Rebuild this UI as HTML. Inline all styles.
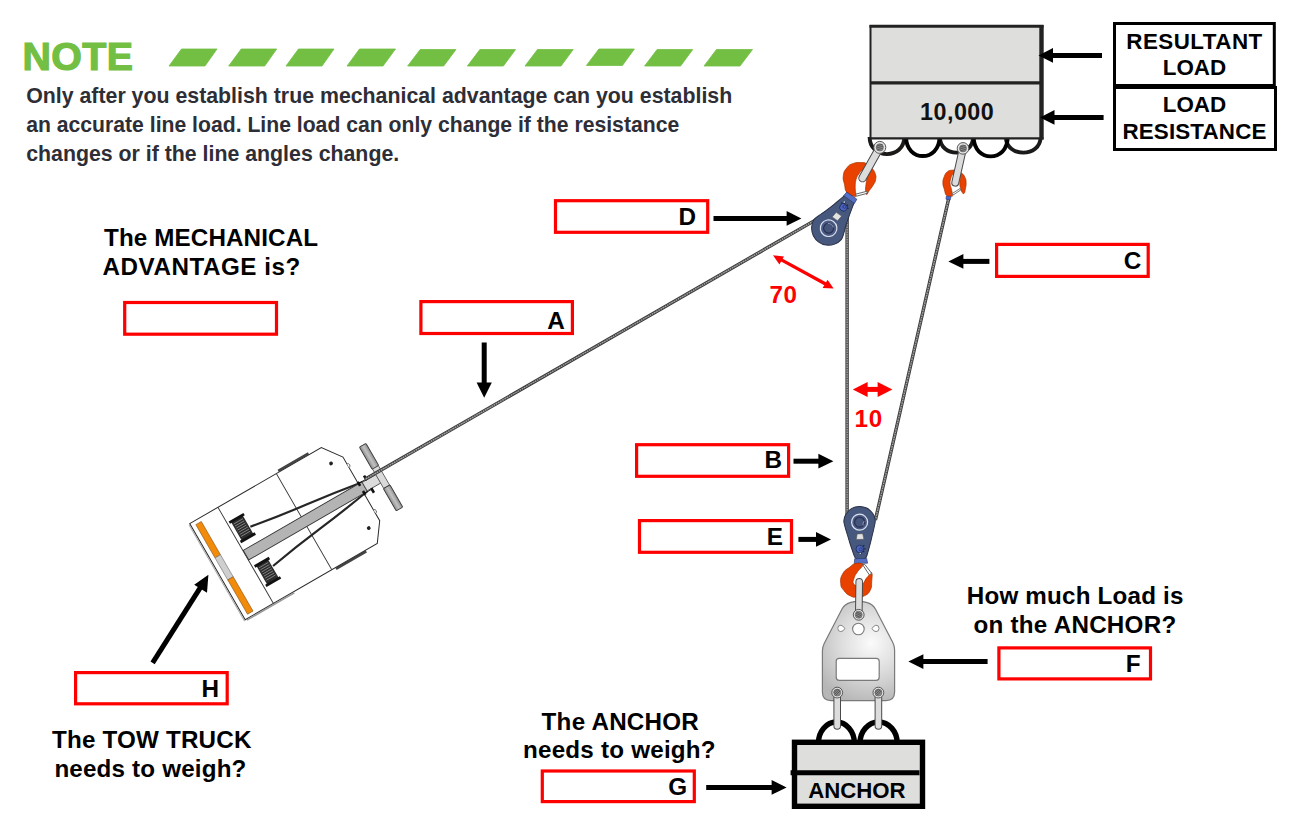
<!DOCTYPE html>
<html>
<head>
<meta charset="utf-8">
<title>Mechanical Advantage</title>
<style>
html,body{margin:0;padding:0;background:#fff;}
body{width:1305px;height:819px;overflow:hidden;position:relative;font-family:"Liberation Sans",sans-serif;}
svg{position:absolute;left:0;top:0;}
text{font-family:"Liberation Sans",sans-serif;font-weight:bold;}
.lbl{fill:#000;}
.q{fill:#000;}
.red{fill:#ff0000;font-size:24.2px;letter-spacing:0.6px;}
.rb{fill:#fff;stroke:#ff0000;stroke-width:3.2;}
.ar{stroke:#000;stroke-width:5;fill:none;}
.ah{fill:#000;stroke:none;}
</style>
</head>
<body>
<svg width="1305" height="819" viewBox="0 0 1305 819">
<defs>
  <linearGradient id="plate" x1="0" y1="0" x2="1" y2="1">
    <stop offset="0" stop-color="#c4c4c4"/><stop offset="0.45" stop-color="#ececec"/><stop offset="1" stop-color="#bdbdbd"/>
  </linearGradient>
  <linearGradient id="bar" x1="0" y1="0" x2="0" y2="1">
    <stop offset="0" stop-color="#9a9a9a"/><stop offset="0.5" stop-color="#cfcfcf"/><stop offset="1" stop-color="#9a9a9a"/>
  </linearGradient>
  <linearGradient id="tb" x1="0" y1="0" x2="1" y2="0">
    <stop offset="0" stop-color="#8e8e8e"/><stop offset="0.5" stop-color="#c2c2c2"/><stop offset="1" stop-color="#8e8e8e"/>
  </linearGradient>
</defs>

<!-- NOTE header -->
<g id="note">
  <text x="22.6" y="69.5" font-size="39.4" fill="#72bf44" stroke="#72bf44" stroke-width="1.2" letter-spacing="0.3">NOTE</text>
  <g fill="#72bf44" stroke="#72bf44" stroke-width="0.8" stroke-linejoin="round">
    <path d="M169 66 L181.5 49 L217 49 L205 66Z"/>
    <path d="M228.7 66 L241.2 49 L276.7 49 L264.7 66Z"/>
    <path d="M286 66 L298.5 49 L334 49 L322 66Z"/>
    <path d="M347 66 L359.5 49 L395.5 49 L383 66Z"/>
    <path d="M407.7 66 L420.2 49.5 L456 49.5 L443.7 66Z"/>
    <path d="M467.4 66 L479.9 49.5 L515.6 49.5 L503.4 66Z"/>
    <path d="M525 66 L537.5 49.5 L573.2 49.5 L561 66Z"/>
    <path d="M586.4 65.5 L598.9 49 L634.4 49 L622.4 65.5Z"/>
    <path d="M644.6 66 L657.1 49.5 L692.7 49.5 L680.6 66Z"/>
    <path d="M704 66 L716.5 49.5 L752.5 49.5 L740 66Z"/>
  </g>
  <g font-size="22" fill="#2e2e36">
    <text x="26.2" y="103" textLength="706" lengthAdjust="spacingAndGlyphs">Only after you establish true mechanical advantage can you establish</text>
    <text x="26.2" y="132" textLength="653" lengthAdjust="spacingAndGlyphs">an accurate line load. Line load can only change if the resistance</text>
    <text x="26.2" y="161" textLength="373" lengthAdjust="spacingAndGlyphs">changes or if the line angles change.</text>
  </g>
</g>

<!-- TOW TRUCK -->
<g id="truck" transform="translate(189.7 523.6) rotate(-30)">
  <!-- tyres / side marks -->
  <path d="M103 -1.4 H138" stroke="#444" stroke-width="2.6"/>
  <path d="M104 112.4 H139" stroke="#444" stroke-width="2.6"/>
  <!-- body -->
  <path d="M0 0 L152 0 L166 19 L166 92.5 L152.5 111 L0 111Z" fill="#fff" stroke="#2a2a2a" stroke-width="1"/>
  <path d="M1.2 112.2 H56" stroke="#9a9a9a" stroke-width="1.6"/>
  <path d="M-1.2 1 V112" stroke="#b0b0b0" stroke-width="1.2"/>
  <path d="M32.6 0 V111 M100 0 V111" stroke="#3a3a3a" stroke-width="0.9" fill="none"/>
  <!-- small bumps -->
  <path d="M166 27 a2 2 0 0 1 0 4 M166 80 a2 2 0 0 1 0 4" stroke="#555" stroke-width="0.8" fill="#fff"/>
  <circle cx="152.5" cy="18.6" r="1.9" fill="#222"/>
  <circle cx="152.8" cy="93.4" r="1.9" fill="#222"/>
  <!-- lights -->
  <rect x="4.8" y="4" width="6.3" height="38.4" fill="#f28a0a" stroke="#8a5a20" stroke-width="0.6"/>
  <rect x="4.8" y="42.4" width="6.3" height="25.4" fill="#cfcfcf" stroke="#777" stroke-width="0.6"/>
  <rect x="4.8" y="67.8" width="6.3" height="39.6" fill="#f28a0a" stroke="#8a5a20" stroke-width="0.6"/>
  <!-- cables -->
  <path d="M51 33 Q80 38.2 110 41.8 T170 50.4" stroke="#262626" stroke-width="2.2" fill="none"/>
  <path d="M51 78.4 Q80 73.2 110 69.6 T170 60.8" stroke="#262626" stroke-width="2.2" fill="none"/>
  <!-- boom -->
  <rect x="33" y="50" width="137" height="11" fill="#b4b4b4" stroke="#333" stroke-width="0.9"/>
  <rect x="170" y="50.6" width="16" height="9.8" fill="#dcdcdc" stroke="#444" stroke-width="0.8"/>
  <!-- boom-tip pins -->
  <path d="M166.4 48 V52.6 M175 45.6 V51 M166.4 58.4 V63 M175 60 V65.4" stroke="#111" stroke-width="2.6"/>
  <path d="M166 49.8 H176 M166 61.2 H176" stroke="#111" stroke-width="0.9"/>
  <!-- winch drums -->
  <g>
    <rect x="36.6" y="19" width="13.4" height="22.4" fill="#2b2b2b"/>
    <rect x="34.8" y="17.6" width="17" height="2.8" fill="#111"/>
    <rect x="34.8" y="40" width="17" height="2.8" fill="#111"/>
    <path d="M38 22.4 H48.6 M38 24.8 H48.6 M38 27.2 H48.6 M38 29.6 H48.6 M38 32 H48.6 M38 34.4 H48.6 M38 36.8 H48.6" stroke="#9a9a9a" stroke-width="0.7"/>
    <rect x="36.6" y="69.6" width="13.4" height="22.4" fill="#2b2b2b"/>
    <rect x="34.8" y="68.2" width="17" height="2.8" fill="#111"/>
    <rect x="34.8" y="90.6" width="17" height="2.8" fill="#111"/>
    <path d="M38 73 H48.6 M38 75.4 H48.6 M38 77.8 H48.6 M38 80.2 H48.6 M38 82.6 H48.6 M38 85 H48.6 M38 87.4 H48.6" stroke="#9a9a9a" stroke-width="0.7"/>
  </g>
  <!-- T-bar -->
  <g>
    <rect x="185.2" y="18.6" width="7.6" height="25.6" rx="1" fill="url(#tb)" stroke="#3a3a3a" stroke-width="0.9"/>
    <rect x="185.6" y="44.2" width="6.8" height="22.4" fill="#dadada" stroke="#555" stroke-width="0.8"/>
    <rect x="185.2" y="66.6" width="7.6" height="25.6" rx="1" fill="url(#tb)" stroke="#3a3a3a" stroke-width="0.9"/>
  </g>
</g>

<!-- ROPES -->
<g id="ropes" fill="none" stroke-linecap="butt">
  <g stroke="#383838" stroke-width="3.4">
    <line x1="365" y1="479.3" x2="818" y2="218.6"/>
    <line x1="847.1" y1="218" x2="847.1" y2="516"/>
    <line x1="948.6" y1="199" x2="875.4" y2="520"/>
  </g>
  <g stroke="#a6a6a6" stroke-width="1.5">
    <line x1="365" y1="479.3" x2="818" y2="218.6"/>
    <line x1="847.1" y1="218" x2="847.1" y2="516"/>
    <line x1="948.6" y1="199" x2="875.4" y2="520"/>
  </g>
  <g stroke="#484848" stroke-width="1.5" stroke-dasharray="1 1.5">
    <line x1="365" y1="479.3" x2="818" y2="218.6"/>
    <line x1="847.1" y1="218" x2="847.1" y2="516"/>
    <line x1="948.6" y1="199" x2="875.4" y2="520"/>
  </g>
</g>

<!-- LOAD BOX -->
<g id="load">
  <g fill="none" stroke-width="3.9">
    <path d="M869.6 137 C869.6 159.8 904.3 159.8 904.3 137" stroke="#1c1a18"/>
    <path d="M939.9 137 C939.9 157.8 973.1 157.8 973.1 137" stroke="#1c1a18"/>
    <path d="M1005.9 137 C1005.9 157.8 1040.6 157.8 1040.6 137" stroke="#1c1a18"/>
    <path d="M906.1 137 C906.1 162.4 939.5 162.4 939.5 137" stroke="#000"/>
    <path d="M973.7 137 C973.7 162.8 1007.7 162.8 1007.7 137" stroke="#000"/>
  </g>
  <rect x="870" y="26" width="172" height="112" fill="#dededc"/>
  <path d="M870.5 25 V138.5" stroke="#222" stroke-width="2" fill="none"/>
  <path d="M869.5 26.2 H1043.5" stroke="#222" stroke-width="3" fill="none"/>
  <path d="M1041.5 25 V139.5" stroke="#222" stroke-width="4.4" fill="none"/>
  <path d="M869.5 138.3 H1043.5" stroke="#222" stroke-width="2.2" fill="none"/>
  <path d="M870 82.9 H1042" stroke="#222" stroke-width="3.3" fill="none"/>
  <text x="920" y="119.8" font-size="23.3" fill="#111" letter-spacing="0.5">10,000</text>
</g>

<!-- RESULTANT / RESISTANCE -->
<g id="rl">
  <rect x="1114.5" y="23.5" width="159.8" height="62" fill="#fff" stroke="#000" stroke-width="3"/>
  <rect x="1114.5" y="87.5" width="161" height="62" fill="#fff" stroke="#000" stroke-width="3"/>
  <g font-size="22.4" fill="#000" text-anchor="middle">
    <text x="1194.5" y="48.6" letter-spacing="0.45">RESULTANT</text>
    <text x="1194.5" y="74.8" >LOAD</text>
    <text x="1194.5" y="112.4" >LOAD</text>
    <text x="1194.5" y="138.6" letter-spacing="0.15">RESISTANCE</text>
  </g>
  <path class="ar" d="M1102 55.4 H1050"/><path class="ah" d="M1038.5 55.4 L1053 48 V62.8Z"/>
  <path class="ar" d="M1103.6 117.4 H1052"/><path class="ah" d="M1040 117.4 L1054.5 110 V124.8Z"/>
</g>

<!-- ANCHOR + PLATE -->
<g id="anchor">
  <path d="M818.4 743 A18 21 0 0 1 854.4 743" fill="none" stroke="#000" stroke-width="5.4"/>
  <path d="M860 743 A18.6 21 0 0 1 897.2 743" fill="none" stroke="#000" stroke-width="5.4"/>
  <rect x="794.5" y="742.3" width="128" height="64" fill="#dededc" stroke="#000" stroke-width="5.4"/>
  <path d="M790.6 772.8 H919.5" stroke="#000" stroke-width="5" fill="none"/>
  <text x="808.2" y="797.6" font-size="22.2" fill="#000" letter-spacing="0">ANCHOR</text>
</g>
<g id="plate">
  <radialGradient id="pg" cx="871" cy="643" r="62" gradientUnits="userSpaceOnUse">
    <stop offset="0" stop-color="#fbfbfb"/><stop offset="0.5" stop-color="#dcdcdc"/><stop offset="1" stop-color="#b6b6b6"/>
  </radialGradient>
  <path d="M850 602.6 Q858.6 600 867.4 602.6 Q872.6 604 875.4 609 L892.8 642.5 Q894.6 646 894.6 650 L894.6 692 Q894.6 700.6 886 700.6 L831 700.6 Q822.4 700.6 822.4 692 L822.4 651 Q822.4 647 824.2 643.5 L842 609 Q844.8 604 850 602.6Z" fill="url(#pg)" stroke="#7a7a7a" stroke-width="1.2"/>
  <rect x="836.2" y="658.3" width="43" height="22" rx="3" fill="#fff" stroke="#7a7a7a" stroke-width="1.2"/>
  <circle cx="858.4" cy="629" r="5.8" fill="#fff" stroke="#7a7a7a" stroke-width="1.1"/>
  <path d="M837.8 628.4 Q837.8 625 841 625.2 Q843.8 626.2 844.8 628.6 Q843.4 631.4 840.8 631.6 Q837.8 631.6 837.8 628.4Z" fill="#fff" stroke="#7a7a7a" stroke-width="0.9"/>
  <path d="M879 628.4 Q879 625 875.8 625.2 Q873 626.2 872 628.6 Q873.4 631.4 876 631.6 Q879 631.6 879 628.4Z" fill="#fff" stroke="#7a7a7a" stroke-width="0.9"/>
  <!-- lower shackles -->
  <g>
    <line x1="837.2" y1="693" x2="837.2" y2="726" stroke="#4a4a4a" stroke-width="7.6" stroke-linecap="round"/>
    <line x1="837.2" y1="693" x2="837.2" y2="726" stroke="#dcdcdc" stroke-width="5.6" stroke-linecap="round"/>
    <line x1="878.4" y1="693" x2="878.4" y2="726" stroke="#4a4a4a" stroke-width="7.6" stroke-linecap="round"/>
    <line x1="878.4" y1="693" x2="878.4" y2="726" stroke="#dcdcdc" stroke-width="5.6" stroke-linecap="round"/>
    <circle cx="837.2" cy="692.6" r="5.4" fill="#e4e4e4" stroke="#555" stroke-width="1"/>
    <circle cx="837.2" cy="692.6" r="3.5" fill="#8a8a8a" stroke="#555" stroke-width="0.6"/>
    <path d="M834.6 694.4 l4.4 -4.6 M835.6 695.6 l4.6 -4.8 M833.9 692.8 l3.6 -3.8" stroke="#444" stroke-width="0.7" fill="none"/>
    <circle cx="878.4" cy="692.6" r="5.4" fill="#e4e4e4" stroke="#555" stroke-width="1"/>
    <circle cx="878.4" cy="692.6" r="3.5" fill="#8a8a8a" stroke="#555" stroke-width="0.6"/>
    <path d="M875.8 694.4 l4.4 -4.6 M876.8 695.6 l4.6 -4.8 M875.1 692.8 l3.6 -3.8" stroke="#444" stroke-width="0.7" fill="none"/>
  </g>
</g>

<!-- SHACKLES top -->
<g id="hooks-top">
  <!-- hook D (large) -->
  <path d="M846.9 192.4 C844.4 189.2 845.5 188.9 844.5 184.4 C843.6 180.0 842.7 180.2 843.3 175.7 C844.0 171.3 844.3 171.1 846.9 167.8 C849.6 164.5 849.4 164.8 853.3 163.4 C857.1 162.0 857.6 162.5 861.2 162.6 C864.8 162.7 864.0 162.4 866.7 163.8 C869.5 165.2 869.3 165.2 871.5 167.8 C873.7 170.3 874.0 170.2 875.1 173.3 C876.2 176.5 876.2 176.5 875.6 179.7 C875.1 182.9 874.8 182.3 873.1 185.2 C871.4 188.2 870.8 188.4 869.1 190.8 C867.4 193.2 867.7 194.4 866.7 194.4 C865.8 194.4 865.8 193.4 865.6 190.8 C865.3 188.1 865.6 187.8 866.0 184.4 C866.3 181.1 866.7 181.5 866.9 178.1 C867.1 174.7 867.8 173.9 866.7 171.7 C865.6 169.6 864.9 169.5 862.8 170.2 C860.7 170.8 860.6 171.6 858.8 174.1 C857.0 176.7 857.0 176.5 856.0 179.7 C855.1 182.9 855.4 182.9 855.2 186.0 C855.1 189.2 855.3 189.0 855.5 191.6 C855.6 194.1 856.2 194.3 855.8 195.6 C855.4 196.8 856.4 197.0 854.0 196.2 C851.7 195.3 849.4 195.5 846.9 192.4Z" fill="#e84100" stroke="#a83200" stroke-width="0.7" stroke-linejoin="round"/>
  <path d="M855.6 194.2 L866.7 191.3 L867.3 193.3 L856.3 196.2Z" fill="#fff" stroke="#555" stroke-width="0.9"/>
  <!-- shackle 1 -->
  <line x1="880" y1="147" x2="862.6" y2="178" stroke="#4a4a4a" stroke-width="8.6" stroke-linecap="round"/>
  <line x1="880" y1="147" x2="862.6" y2="178" stroke="#dcdcdc" stroke-width="6.6" stroke-linecap="round"/>
  <circle cx="879.8" cy="147.4" r="6" fill="#e4e4e4" stroke="#555" stroke-width="1"/>
  <circle cx="879.8" cy="147.4" r="3.6" fill="#8a8a8a" stroke="#555" stroke-width="0.6"/>
  <path d="M876.8 146 l5.6 -1.6 M876.6 148 l6.4 -1.8 M877.4 149.8 l5.2 -1.5" stroke="#444" stroke-width="0.7" fill="none"/>

  <!-- hook C (small) -->
  <path d="M946.7 195.6 C944.8 193.7 945.3 192.6 944.3 189.2 C943.3 185.8 942.9 186.2 942.9 182.9 C942.9 179.5 943.1 179.5 944.3 176.5 C945.5 173.5 945.3 173.4 947.5 171.7 C949.6 170.1 949.7 170.4 952.2 170.2 C954.8 169.9 954.4 170.1 957.0 171.0 C959.5 171.8 959.6 171.6 961.7 173.3 C963.9 175.0 963.8 174.8 964.9 177.3 C966.1 179.8 966.0 179.7 966.1 182.9 C966.2 186.0 965.8 186.4 965.3 189.2 C964.8 192.0 964.9 192.4 964.1 193.3 C963.4 194.3 963.5 194.1 962.5 192.8 C961.6 191.5 961.3 191.1 960.6 188.4 C959.8 185.8 959.9 185.8 959.8 182.9 C959.7 179.9 960.9 179.8 960.2 177.3 C959.4 174.8 958.9 174.2 957.0 173.3 C955.1 172.5 954.8 172.4 953.0 174.1 C951.3 175.8 951.2 176.9 950.5 179.7 C949.7 182.4 950.0 181.9 950.2 184.4 C950.5 187.0 950.9 186.5 951.4 189.2 C952.0 192.0 952.4 192.9 952.4 194.8 C952.4 196.6 953.0 196.0 951.4 196.2 C949.9 196.4 948.6 197.4 946.7 195.6Z" fill="#e84100" stroke="#a83200" stroke-width="0.7" stroke-linejoin="round"/>
  <path d="M952.4 193.4 L960 188.6 L960.8 189.9 L953.2 195Z" fill="#fff" stroke="#555" stroke-width="0.8"/>
  <path d="M946.3 196 L951.1 196.4 L950.3 200 L945.9 199.2Z" fill="#4a66c8" stroke="#2a3a70" stroke-width="0.5"/>
  <!-- shackle 2 -->
  <line x1="962.9" y1="148.6" x2="955.3" y2="182.6" stroke="#4a4a4a" stroke-width="8" stroke-linecap="round"/>
  <line x1="962.9" y1="148.6" x2="955.3" y2="182.6" stroke="#dcdcdc" stroke-width="6" stroke-linecap="round"/>
  <circle cx="963" cy="148.4" r="5.8" fill="#e4e4e4" stroke="#555" stroke-width="1"/>
  <circle cx="963" cy="148.4" r="3.5" fill="#8a8a8a" stroke="#555" stroke-width="0.6"/>
  <path d="M960 147 l5.6 -1.6 M959.8 149 l6.4 -1.8 M960.6 150.8 l5.2 -1.5" stroke="#444" stroke-width="0.7" fill="none"/>
</g>

<!-- PULLEY D -->
<g id="pulleyD" transform="translate(828.6 228.2) rotate(-54.5)">
  <path d="M-17.0 0.0 C-17.0 -2.6 -16.5 -5.4 -15.2 -7.8 C-13.9 -10.2 -11.6 -12.7 -9.4 -14.2 C-7.2 -15.7 -4.4 -16.7 -2.0 -16.9 C0.4 -17.1 2.7 -15.9 5.0 -15.2 C7.3 -14.5 9.0 -13.6 12.0 -12.6 C15.0 -11.6 19.7 -10.2 23.0 -9.3 C26.3 -8.4 29.8 -7.5 32.0 -6.9 C34.2 -6.3 35.4 -6.3 36.4 -5.6 C37.4 -4.9 37.6 -4.0 37.8 -2.6 C38.0 -1.2 38.0 1.2 37.8 2.6 C37.6 4.0 37.4 4.9 36.4 5.6 C35.4 6.3 34.2 6.3 32.0 6.9 C29.8 7.5 26.3 8.4 23.0 9.3 C19.7 10.2 15.0 11.6 12.0 12.6 C9.0 13.6 7.3 14.5 5.0 15.2 C2.7 15.9 0.4 17.1 -2.0 16.9 C-4.4 16.7 -7.2 15.7 -9.4 14.2 C-11.6 12.7 -13.9 10.2 -15.2 7.8 C-16.5 5.4 -17.0 2.6 -17.0 0.0Z" fill="#47587f" stroke="#2a2f45" stroke-width="1"/>
  <path d="M35.2 -6.6 L40 -6.2 L40 6.2 L35.2 6.6Z" fill="#5670c6" stroke="#2a3560" stroke-width="0.6"/>
  <circle cx="0" cy="0" r="8.3" fill="#4a5c86" stroke="#dde1ef" stroke-width="1.2"/>
  <circle cx="0" cy="0" r="5" fill="#44547a" stroke="#2a3050" stroke-width="1.2"/>
  <path d="M3.4 3.4 A4.8 4.8 0 0 0 3.4 -3.4" fill="none" stroke="#aab3d0" stroke-width="0.7"/>
  <path d="M11.2 -3.6 L17.4 -3 L17.4 3.6 L11.2 3Z" fill="#e2e2e2" stroke="#555" stroke-width="0.6"/>
  <circle cx="25.6" cy="0" r="3.8" fill="#4a64c4" stroke="#25305c" stroke-width="0.9"/>
  <path d="M27.6 -3.4 l1.2 -1 M29 -1.2 l1.6 -0.4 M28.8 1.6 l1.5 0.6 M27 3.6 l0.9 1.2" stroke="#1c2340" stroke-width="1.1" fill="none"/>
  <circle cx="26.6" cy="0.4" r="1.5" fill="none" stroke="#2a3560" stroke-width="0.8"/>
  <circle cx="30.4" cy="-2.4" r="0.7" fill="#e8ecf8"/>
</g>

<!-- PULLEY E -->
<g id="pulleyE" transform="translate(859.6 522.2) rotate(88.3)">
  <path d="M-15.8 0.0 C-15.8 -2.5 -15.2 -5.2 -14.0 -7.4 C-12.8 -9.6 -10.6 -11.9 -8.6 -13.3 C-6.6 -14.7 -4.3 -15.5 -2.0 -15.7 C0.3 -15.9 2.7 -15.0 5.0 -14.5 C7.3 -14.0 9.5 -13.3 12.0 -12.6 C14.5 -11.9 17.2 -11.3 20.0 -10.5 C22.8 -9.7 26.3 -8.6 28.8 -7.8 C31.3 -7.0 33.8 -6.5 35.2 -5.6 C36.6 -4.7 37.0 -4.0 37.4 -2.6 C37.8 -1.2 37.8 1.2 37.4 2.6 C37.0 4.0 36.6 4.7 35.2 5.6 C33.8 6.5 31.3 7.0 28.8 7.8 C26.3 8.6 22.8 9.7 20.0 10.5 C17.2 11.3 14.5 11.9 12.0 12.6 C9.5 13.3 7.3 14.0 5.0 14.5 C2.7 15.0 0.3 15.9 -2.0 15.7 C-4.3 15.5 -6.6 14.7 -8.6 13.3 C-10.6 11.9 -12.8 9.6 -14.0 7.4 C-15.2 5.2 -15.8 2.5 -15.8 0.0Z" fill="#47587f" stroke="#2a2f45" stroke-width="1"/>
  <path d="M36.4 -6 L41.2 -6.8 L41.2 6.6 L36.4 6Z" fill="#5670c6" stroke="#2a3560" stroke-width="0.6"/>
  <circle cx="0" cy="0" r="8" fill="#4a5c86" stroke="#dde1ef" stroke-width="1.2"/>
  <circle cx="0" cy="0" r="5" fill="#44547a" stroke="#2a3050" stroke-width="1.2"/>
  <path d="M3.4 -3.4 A4.8 4.8 0 0 1 -1 -4.7" fill="none" stroke="#aab3d0" stroke-width="0.7"/>
  <path d="M11.6 -2.8 L17.2 -3.8 L17.2 3.8 L11.6 2.8Z" fill="#e2e2e2" stroke="#555" stroke-width="0.6"/>
  <circle cx="26.8" cy="0.6" r="3.8" fill="#4a64c4" stroke="#25305c" stroke-width="0.9"/>
  <path d="M24.2 -2.8 l-1 -1.2 M26.6 -3.6 l0.2 -1.5 M29 -2.6 l1 -1.2 M30.6 -0.4 l1.5 -0.2" stroke="#1c2340" stroke-width="1.1" fill="none"/>
  <circle cx="27.2" cy="-0.4" r="1.5" fill="none" stroke="#2a3560" stroke-width="0.8"/>
  <circle cx="31.2" cy="0.2" r="0.7" fill="#e8ecf8"/>
</g>

<!-- HOOK E -->
<g id="hookE">
  <path d="M855.8 563.5 C852.4 564.3 853.3 564.3 849.8 567.1 C846.3 569.8 845.1 569.5 842.7 573.8 C840.3 578.1 840.4 578.9 840.7 583.3 C841.0 587.8 841.2 587.1 843.9 590.5 C846.5 593.9 847.1 594.3 850.6 596.0 C854.1 597.8 853.2 597.1 857.0 597.0 C860.8 596.9 861.3 597.6 864.9 595.6 C868.5 593.7 868.7 593.4 870.5 589.7 C872.3 586.0 871.3 586.2 871.7 581.7 C872.0 577.3 872.6 574.7 871.8 573.0 C871.1 571.3 870.4 573.9 868.9 575.4 C867.4 576.9 867.6 576.5 866.1 578.6 C864.6 580.7 865.1 581.4 863.3 583.3 C861.5 585.2 861.9 585.5 859.4 585.7 C856.8 585.9 855.2 586.2 853.8 584.1 C852.4 582.0 853.1 581.2 854.2 577.8 C855.3 574.4 855.8 574.3 857.8 571.4 C859.8 568.6 860.4 569.0 861.7 567.1 C863.1 565.1 864.3 565.1 862.7 564.1 C861.1 563.2 859.2 562.7 855.8 563.5Z" fill="#e84100" stroke="#a83200" stroke-width="0.7" stroke-linejoin="round"/>
  <path d="M862.6 564.6 L864.8 564.4 L871.6 573.2 L869.4 575Z" fill="#fff" stroke="#555" stroke-width="0.9"/>
  <line x1="859.2" y1="581.8" x2="858.8" y2="615" stroke="#4a4a4a" stroke-width="7.6" stroke-linecap="round"/>
  <line x1="859.2" y1="581.8" x2="858.8" y2="615" stroke="#dcdcdc" stroke-width="5.6" stroke-linecap="round"/>
  <circle cx="858.7" cy="614.8" r="5.4" fill="#e4e4e4" stroke="#555" stroke-width="1"/>
  <circle cx="858.7" cy="614.8" r="3.5" fill="#8a8a8a" stroke="#555" stroke-width="0.6"/>
  <path d="M856 613.4 l5 2.4 M856.4 611.8 l5.2 2.6 M855.8 615.2 l4.6 2.2" stroke="#444" stroke-width="0.7" fill="none"/>
</g>

<!-- RED BOXES + LABELS -->
<g id="boxes">
  <rect class="rb" x="124.7" y="302.5" width="151.8" height="31.7"/>
  <rect class="rb" x="420.9" y="301.6" width="151.5" height="31.9"/>
  <rect class="rb" x="555.5" y="200.7" width="152.2" height="31.6"/>
  <rect class="rb" x="636.6" y="444.7" width="152" height="31.6"/>
  <rect class="rb" x="639.5" y="520.6" width="152" height="31.7"/>
  <rect class="rb" x="996.6" y="244.4" width="151.6" height="32"/>
  <rect class="rb" x="998.9" y="647.9" width="151.6" height="31"/>
  <rect class="rb" x="75.6" y="672.6" width="151.6" height="31.2"/>
  <rect class="rb" x="542.3" y="771" width="152" height="30.6"/>
  <g class="lbl" font-size="24.3">
    <text x="547.2" y="328.8">A</text>
    <text x="764.6" y="468.4">B</text>
    <text x="1123.8" y="268.9">C</text>
    <text x="678.6" y="224.8">D</text>
    <text x="766.8" y="544.7">E</text>
    <text x="1125.8" y="671.6">F</text>
    <text x="668.2" y="795.2">G</text>
    <text x="201.4" y="696.6">H</text>
  </g>
</g>
<g id="questions" class="q" font-size="24.2">
  <text x="104" y="245.8" textLength="214" lengthAdjust="spacing">The MECHANICAL</text>
  <text x="102.6" y="274.9" textLength="197.6" lengthAdjust="spacing">ADVANTAGE is?</text>
  <text x="966.8" y="604.2" textLength="216.6" lengthAdjust="spacing">How much Load is</text>
  <text x="973.4" y="633.4" textLength="202.8" lengthAdjust="spacing">on the ANCHOR?</text>
  <text x="52" y="747.7" textLength="199.4" lengthAdjust="spacing">The TOW TRUCK</text>
  <text x="54.4" y="777" textLength="192" lengthAdjust="spacing">needs to weigh?</text>
  <text x="541.6" y="729.7" textLength="157.2" lengthAdjust="spacing">The ANCHOR</text>
  <text x="523" y="758.4" textLength="192.6" lengthAdjust="spacing">needs to weigh?</text>
</g>
<g id="redstuff">
  <text class="red" x="769.4" y="302.9">70</text>
  <text class="red" x="854.6" y="427">10</text>
  <g stroke="#ff0000" fill="none">
    <line x1="781" y1="259.6" x2="826" y2="284.2" stroke-width="3.3"/>
    <line x1="865" y1="389.4" x2="880" y2="389.4" stroke-width="5"/>
  </g>
  <g fill="#ff0000">
    <path d="M773 255.2 L784 256.4 L779.4 264.6Z"/>
    <path d="M833.6 288.4 L827.6 279.8 L822.6 288Z"/>
    <path d="M852.8 389.4 L867.6 381.9 V396.9Z"/>
    <path d="M892.4 389.4 L877.6 381.9 V396.9Z"/>
  </g>
</g>
<g id="arrows">
  <path class="ar" d="M713.5 218.4 H790"/><path class="ah" d="M801.4 218.4 L786.6 211 V225.8Z"/>
  <path class="ar" d="M484.2 342.5 V386"/><path class="ah" d="M484.2 397.8 L476.6 382.6 H491.8Z"/>
  <path class="ar" d="M793.5 461.2 H822"/><path class="ah" d="M833.4 461.2 L818.4 453.8 V468.6Z"/>
  <path class="ar" d="M798.4 539.4 H820"/><path class="ah" d="M831 539.4 L816 532 V546.8Z"/>
  <path class="ar" d="M989.4 261.4 H960"/><path class="ah" d="M948.4 261.4 L963.4 254 V268.8Z"/>
  <path class="ar" d="M987.6 661.6 H920"/><path class="ah" d="M908.4 661.6 L923.4 654.2 V669Z"/>
  <path class="ar" d="M706.2 787.4 H775"/><path class="ah" d="M786.6 787.4 L771.6 780 V794.8Z"/>
  <path class="ar" d="M152.6 662.8 L201.4 585.8"/><path class="ah" d="M208.4 574.8 L194.2 584.8 L207 592.8Z"/>
</g>

</svg>
</body>
</html>
